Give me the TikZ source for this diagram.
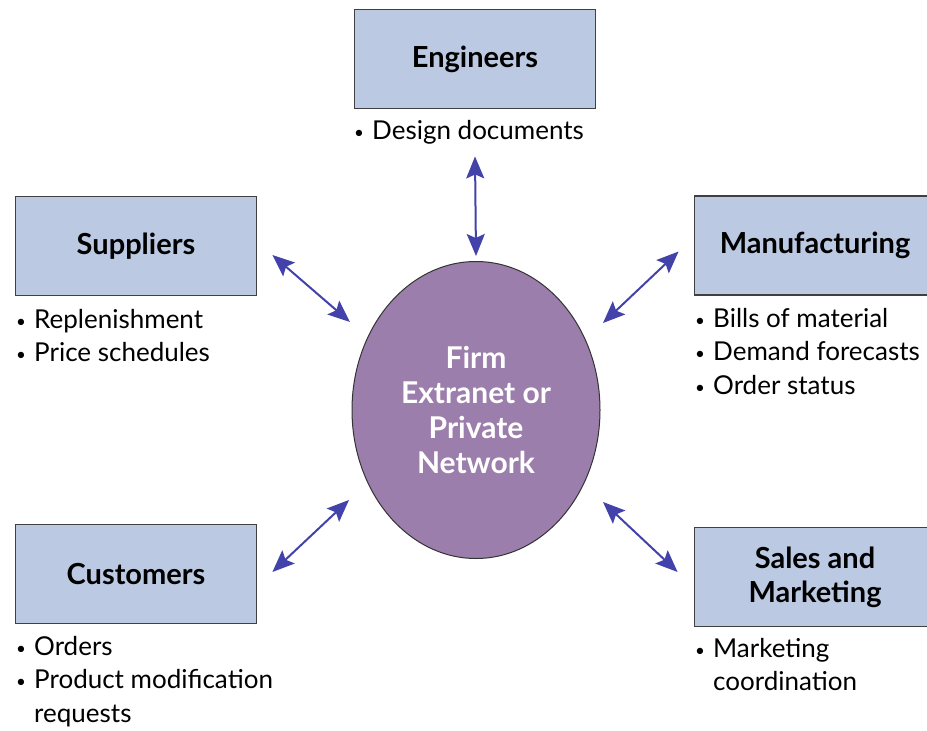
\documentclass[tikz,border=0pt]{standalone}
\usepackage{fontspec}
\setmainfont{Lato}
\usepackage{tikz}
\usetikzlibrary{arrows.meta}
\usetikzlibrary{shapes.geometric}
\usetikzlibrary{positioning}
\definecolor{boxblue}{RGB}{187,202,226}
\definecolor{firmpurple}{RGB}{155,126,172}
\definecolor{linkblue}{RGB}{66,66,170}
\newcommand{\itembul}{\makebox[18pt][l]{\raisebox{1pt}{\fontsize{17}{17}\selectfont\textbullet}}}
\tikzset{
	unit/.style={draw=black!75, line width=1.8pt, fill=boxblue, minimum width=241pt, minimum height=99pt, inner sep=0pt, align=center, font=\fontsize{29}{34}\selectfont\bfseries},
	items/.style={inner sep=0pt, align=left, anchor=north west, font=\fontsize{26}{33.5}\selectfont},
	link/.style={linkblue, line width=2pt, {Stealth[length=22pt, width=18pt, inset=4pt]}-{Stealth[length=22pt, width=18pt, inset=4pt]}}
}
\begin{document}
\begin{tikzpicture}[x=1pt, y=-1pt]
					\useasboundingbox (0,0) rectangle (927,731);
					\node[ellipse, draw=black!80, line width=1pt, fill=firmpurple, minimum width=248pt, minimum height=297pt, inner sep=0pt, align=center, text=white, font=\fontsize{30}{35}\selectfont\bfseries] (firm) at (476,410) {Firm\\Extranet or\\Private\\Network};
					\node[unit] (eng) at (475,59) {Engineers};
					\node[unit] (sup) at (136,246) {Suppliers};
					\node[unit] (man) at (815,245.5) {Manufacturing};
					\node[unit] (cus) at (136,574) {Customers};
					\node[unit] (sal) at (815,577) {Sales and\\Marketing};
					\node[items] (engtxt) at (354,120) {\itembul Design documents};
					\node[items] (suptxt) at (16,309) {\itembul Replenishment\\\itembul Price schedules};
					\node[items] (mantxt) at (695,308) {\itembul Bills of material\\\itembul Demand forecasts\\\itembul Order status};
					\node[items] (custxt) at (16,636) {\itembul Orders\\\itembul Product modification\\\hspace*{18pt}requests};
					\node[items] (saltxt) at (695,638) {\itembul Marketing\\\hspace*{18pt}coordination};
					% double arrows to the network
					\draw[link] ([yshift=-47pt]eng.south) -- ([yshift=5pt]firm.north);
					\draw[link] ([xshift=15pt, yshift=-9pt]sup.east) -- ([xshift=-126pt, yshift=88pt]firm.center);
					\draw[link] ([xshift=-15pt, yshift=-6pt]man.west) -- ([xshift=127pt, yshift=87pt]firm.center);
					\draw[link] ([xshift=15pt, yshift=2pt]cus.east) -- ([xshift=-127pt, yshift=-90pt]firm.center);
					\draw[link] ([xshift=-16pt, yshift=5pt]sal.west) -- ([xshift=127pt, yshift=-92pt]firm.center);
				\end{tikzpicture}
\end{document}
